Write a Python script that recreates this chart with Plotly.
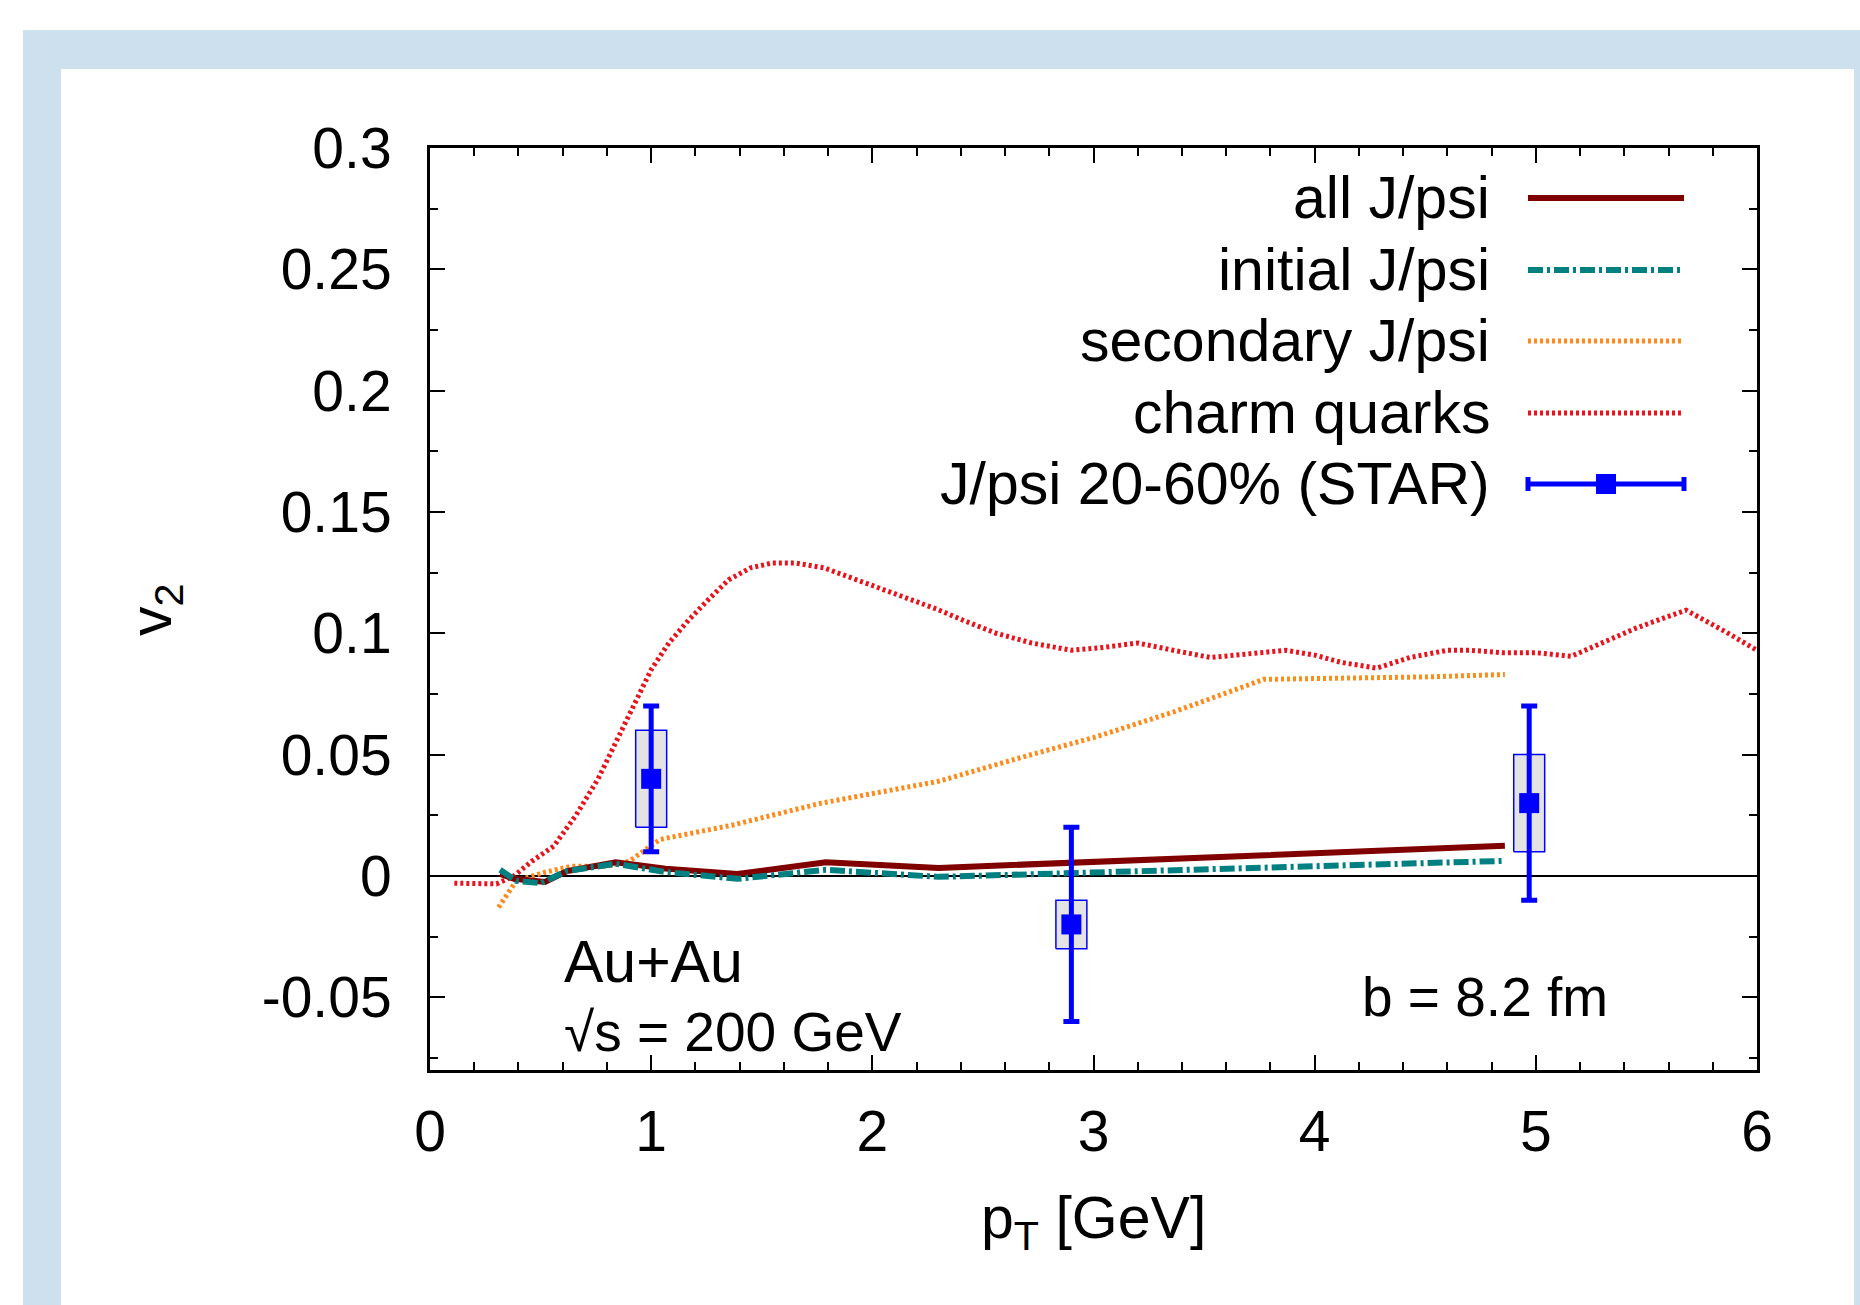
import plotly.graph_objects as go

# ---------------- data ----------------
charm_x = [0.11, 0.30, 0.38, 0.46, 0.56, 0.66, 0.76, 0.88, 1.0, 1.08, 1.17, 1.26, 1.35, 1.45,
           1.55, 1.65, 1.78, 1.9, 2.02, 2.15, 2.29, 2.42, 2.56, 2.72, 2.9, 3.03, 3.2, 3.36,
           3.53, 3.7, 3.87, 4.0, 4.12, 4.28, 4.43, 4.6, 4.7, 4.85, 5.0, 5.16, 5.3, 5.45,
           5.6, 5.68, 5.85, 6.0]
charm_y = [-0.003, -0.0033, 0.0, 0.006, 0.0123, 0.025, 0.040, 0.062, 0.085, 0.096, 0.1055,
           0.114, 0.122, 0.127, 0.129, 0.129, 0.127, 0.123, 0.119, 0.115, 0.110, 0.105,
           0.100, 0.096, 0.093, 0.094, 0.096, 0.093, 0.090, 0.0915, 0.093, 0.091, 0.088,
           0.0856, 0.090, 0.093, 0.093, 0.092, 0.092, 0.0905, 0.096, 0.102, 0.107, 0.1095,
           0.101, 0.093]

sec_x = [0.31, 0.39, 0.52, 0.64, 0.80, 0.90, 1.04, 1.37, 1.77, 2.3, 2.68, 3.0, 3.36, 3.77,
         4.12, 4.5, 4.86]
sec_y = [-0.013, -0.002, 0.0015, 0.004, 0.004, 0.006, 0.015, 0.021, 0.030, 0.039, 0.049,
         0.057, 0.0675, 0.081, 0.0815, 0.082, 0.083]

all_x = [0.317, 0.38, 0.52, 0.62, 0.84, 1.065, 1.39, 1.79, 2.30, 4.86]
all_y = [0.0008, -0.0012, -0.0025, 0.002, 0.0056, 0.003, 0.0008, 0.0056, 0.0033, 0.0124]

init_x = [0.317, 0.39, 0.50, 0.62, 0.84, 1.065, 1.39, 1.79, 2.30, 4.86]
init_y = [0.0025, -0.002, -0.003, 0.002, 0.005, 0.0016, -0.0012, 0.0025, -0.0004, 0.0062]

star_x = [1.0, 2.9, 4.97]
star_y = [0.04, -0.02, 0.03]
star_err = [0.03, 0.04, 0.04]
star_sys_lo = [0.02, -0.03, 0.01]
star_sys_hi = [0.06, -0.01, 0.05]

y_tick_vals = [-0.05, 0, 0.05, 0.1, 0.15, 0.2, 0.25, 0.3]
y_tick_text = ["-0.05", "0", "0.05", "0.1", "0.15", "0.2", "0.25", "0.3"]
x_tick_vals = [0, 1, 2, 3, 4, 5, 6]

legend_labels = ["all J/psi", "initial J/psi", "secondary J/psi", "charm quarks",
                 "J/psi 20-60% (STAR)"]

# ---------------- style ----------------
FONT = "Liberation Sans, Arial, Helvetica, sans-serif"
FS = 57
FS_LEG = 59
C_ALL = "#800000"
C_INIT = "#008080"
C_SEC = "#ff8a1c"
C_CHARM = "#e8141c"
C_STAR = "#0000ff"
DOT = "3px,3px"
DASHDOT = "15px,4px,3px,4px"

W, H = 1860, 1305
L, R, T, B = 430, 1757, 148, 1070


def px(xp):
    return (xp - L) / (R - L)


def py(yp):
    return (B - yp) / (B - T)


fig = go.Figure()

fig.add_trace(go.Scatter(x=charm_x, y=charm_y, mode="lines",
                         line=dict(color=C_CHARM, width=5, dash=DOT), showlegend=False))
fig.add_trace(go.Scatter(x=sec_x, y=sec_y, mode="lines",
                         line=dict(color=C_SEC, width=5, dash=DOT), showlegend=False))
fig.add_trace(go.Scatter(x=all_x, y=all_y, mode="lines",
                         line=dict(color=C_ALL, width=6), showlegend=False))
fig.add_trace(go.Scatter(x=init_x, y=init_y, mode="lines",
                         line=dict(color=C_INIT, width=6, dash=DASHDOT), showlegend=False))

# systematic boxes
HALF = 0.07
bx, by = [], []
for xc, lo, hi in zip(star_x, star_sys_lo, star_sys_hi):
    bx += [xc - HALF, xc + HALF, xc + HALF, xc - HALF, xc - HALF, None]
    by += [lo, lo, hi, hi, lo, None]
fig.add_trace(go.Scatter(x=bx, y=by, mode="lines", fill="toself", fillcolor="#e3e3e3",
                         line=dict(color=C_STAR, width=1.5), showlegend=False))

fig.add_trace(go.Scatter(x=star_x, y=star_y, mode="markers",
                         marker=dict(symbol="square", size=20, color=C_STAR),
                         error_y=dict(type="data", array=star_err, arrayminus=star_err,
                                      color=C_STAR, thickness=5, width=8),
                         showlegend=False))

shapes = [
    dict(type="rect", xref="paper", yref="paper", x0=px(23), x1=px(1880), y0=py(1330),
         y1=py(30), fillcolor="#cce0ee", line=dict(width=0), layer="below"),
    dict(type="rect", xref="paper", yref="paper", x0=px(61), x1=px(1854), y0=py(1330),
         y1=py(69), fillcolor="white", line=dict(width=0), layer="below"),
]

annotations = []
rows = [198, 270, 341, 413, 484]
styles = [dict(color=C_ALL, width=6), dict(color=C_INIT, width=6, dash=DASHDOT),
          dict(color=C_SEC, width=5, dash=DOT), dict(color=C_CHARM, width=5, dash=DOT),
          dict(color=C_STAR, width=5)]
for lab, ry, st in zip(legend_labels, rows, styles):
    annotations.append(dict(text=lab, xref="paper", yref="paper", x=px(1492), y=py(ry),
                            xanchor="right", yanchor="middle", showarrow=False,
                            font=dict(family=FONT, size=FS_LEG, color="black")))
    shapes.append(dict(type="line", xref="paper", yref="paper", x0=px(1528), x1=px(1684),
                       y0=py(ry), y1=py(ry), line=st))
# error-bar legend caps and marker
ry = rows[-1]
for cx in (1528, 1684):
    shapes.append(dict(type="line", xref="paper", yref="paper", x0=px(cx), x1=px(cx),
                       y0=py(ry - 7), y1=py(ry + 7), line=dict(color=C_STAR, width=5)))
shapes.append(dict(type="rect", xref="paper", yref="paper", x0=px(1596), x1=px(1616),
                   y0=py(ry + 10), y1=py(ry - 10), fillcolor=C_STAR,
                   line=dict(width=0)))


def txt(size):
    return dict(xref="paper", yref="paper", showarrow=False,
                font=dict(family=FONT, size=size, color="black"))


annotations.append(dict(text="Au+Au", x=px(562), y=py(962), xanchor="left",
                        yanchor="middle", **txt(59)))
annotations.append(dict(text="\u221As = 200 GeV", x=px(562), y=py(1032), xanchor="left",
                        yanchor="middle", **txt(55)))
annotations.append(dict(text="b = 8.2 fm", x=px(1360), y=py(997), xanchor="left",
                        yanchor="middle", **txt(55)))
annotations.append(dict(text="p<sub>T</sub> [GeV]", x=px(1093), y=py(1222),
                        xanchor="center", yanchor="middle", **txt(59)))
annotations.append(dict(text="v<sub>2</sub>", x=px(155), y=py(610), textangle=-90,
                        xanchor="center", yanchor="middle", **txt(59)))

axis_common = dict(showline=True, linecolor="black", linewidth=3, mirror="ticks",
                   ticks="inside", ticklen=15, tickwidth=2, tickcolor="black",
                   showgrid=False, tickfont=dict(family=FONT, size=FS, color="black"))

fig.update_layout(
    width=W, height=H,
    margin=dict(l=L, r=W - R, t=T, b=H - B, pad=0),
    paper_bgcolor="white", plot_bgcolor="rgba(0,0,0,0)",
    showlegend=False,
    shapes=shapes, annotations=annotations,
    xaxis=dict(range=[0, 6], tickmode="array", tickvals=x_tick_vals,
               ticklabelstandoff=10, zeroline=False,
               minor=dict(dtick=0.2, tick0=0, ticks="inside", ticklen=8, tickwidth=2,
                          tickcolor="black"),
               **axis_common),
    yaxis=dict(range=[-0.08, 0.3], tickmode="array", tickvals=y_tick_vals,
               ticktext=y_tick_text, ticklabelstandoff=24,
               zeroline=True, zerolinecolor="black", zerolinewidth=2,
               minor=dict(dtick=0.025, tick0=0, ticks="inside", ticklen=8, tickwidth=2,
                          tickcolor="black"),
               **axis_common),
)

fig.write_html("out.html")
